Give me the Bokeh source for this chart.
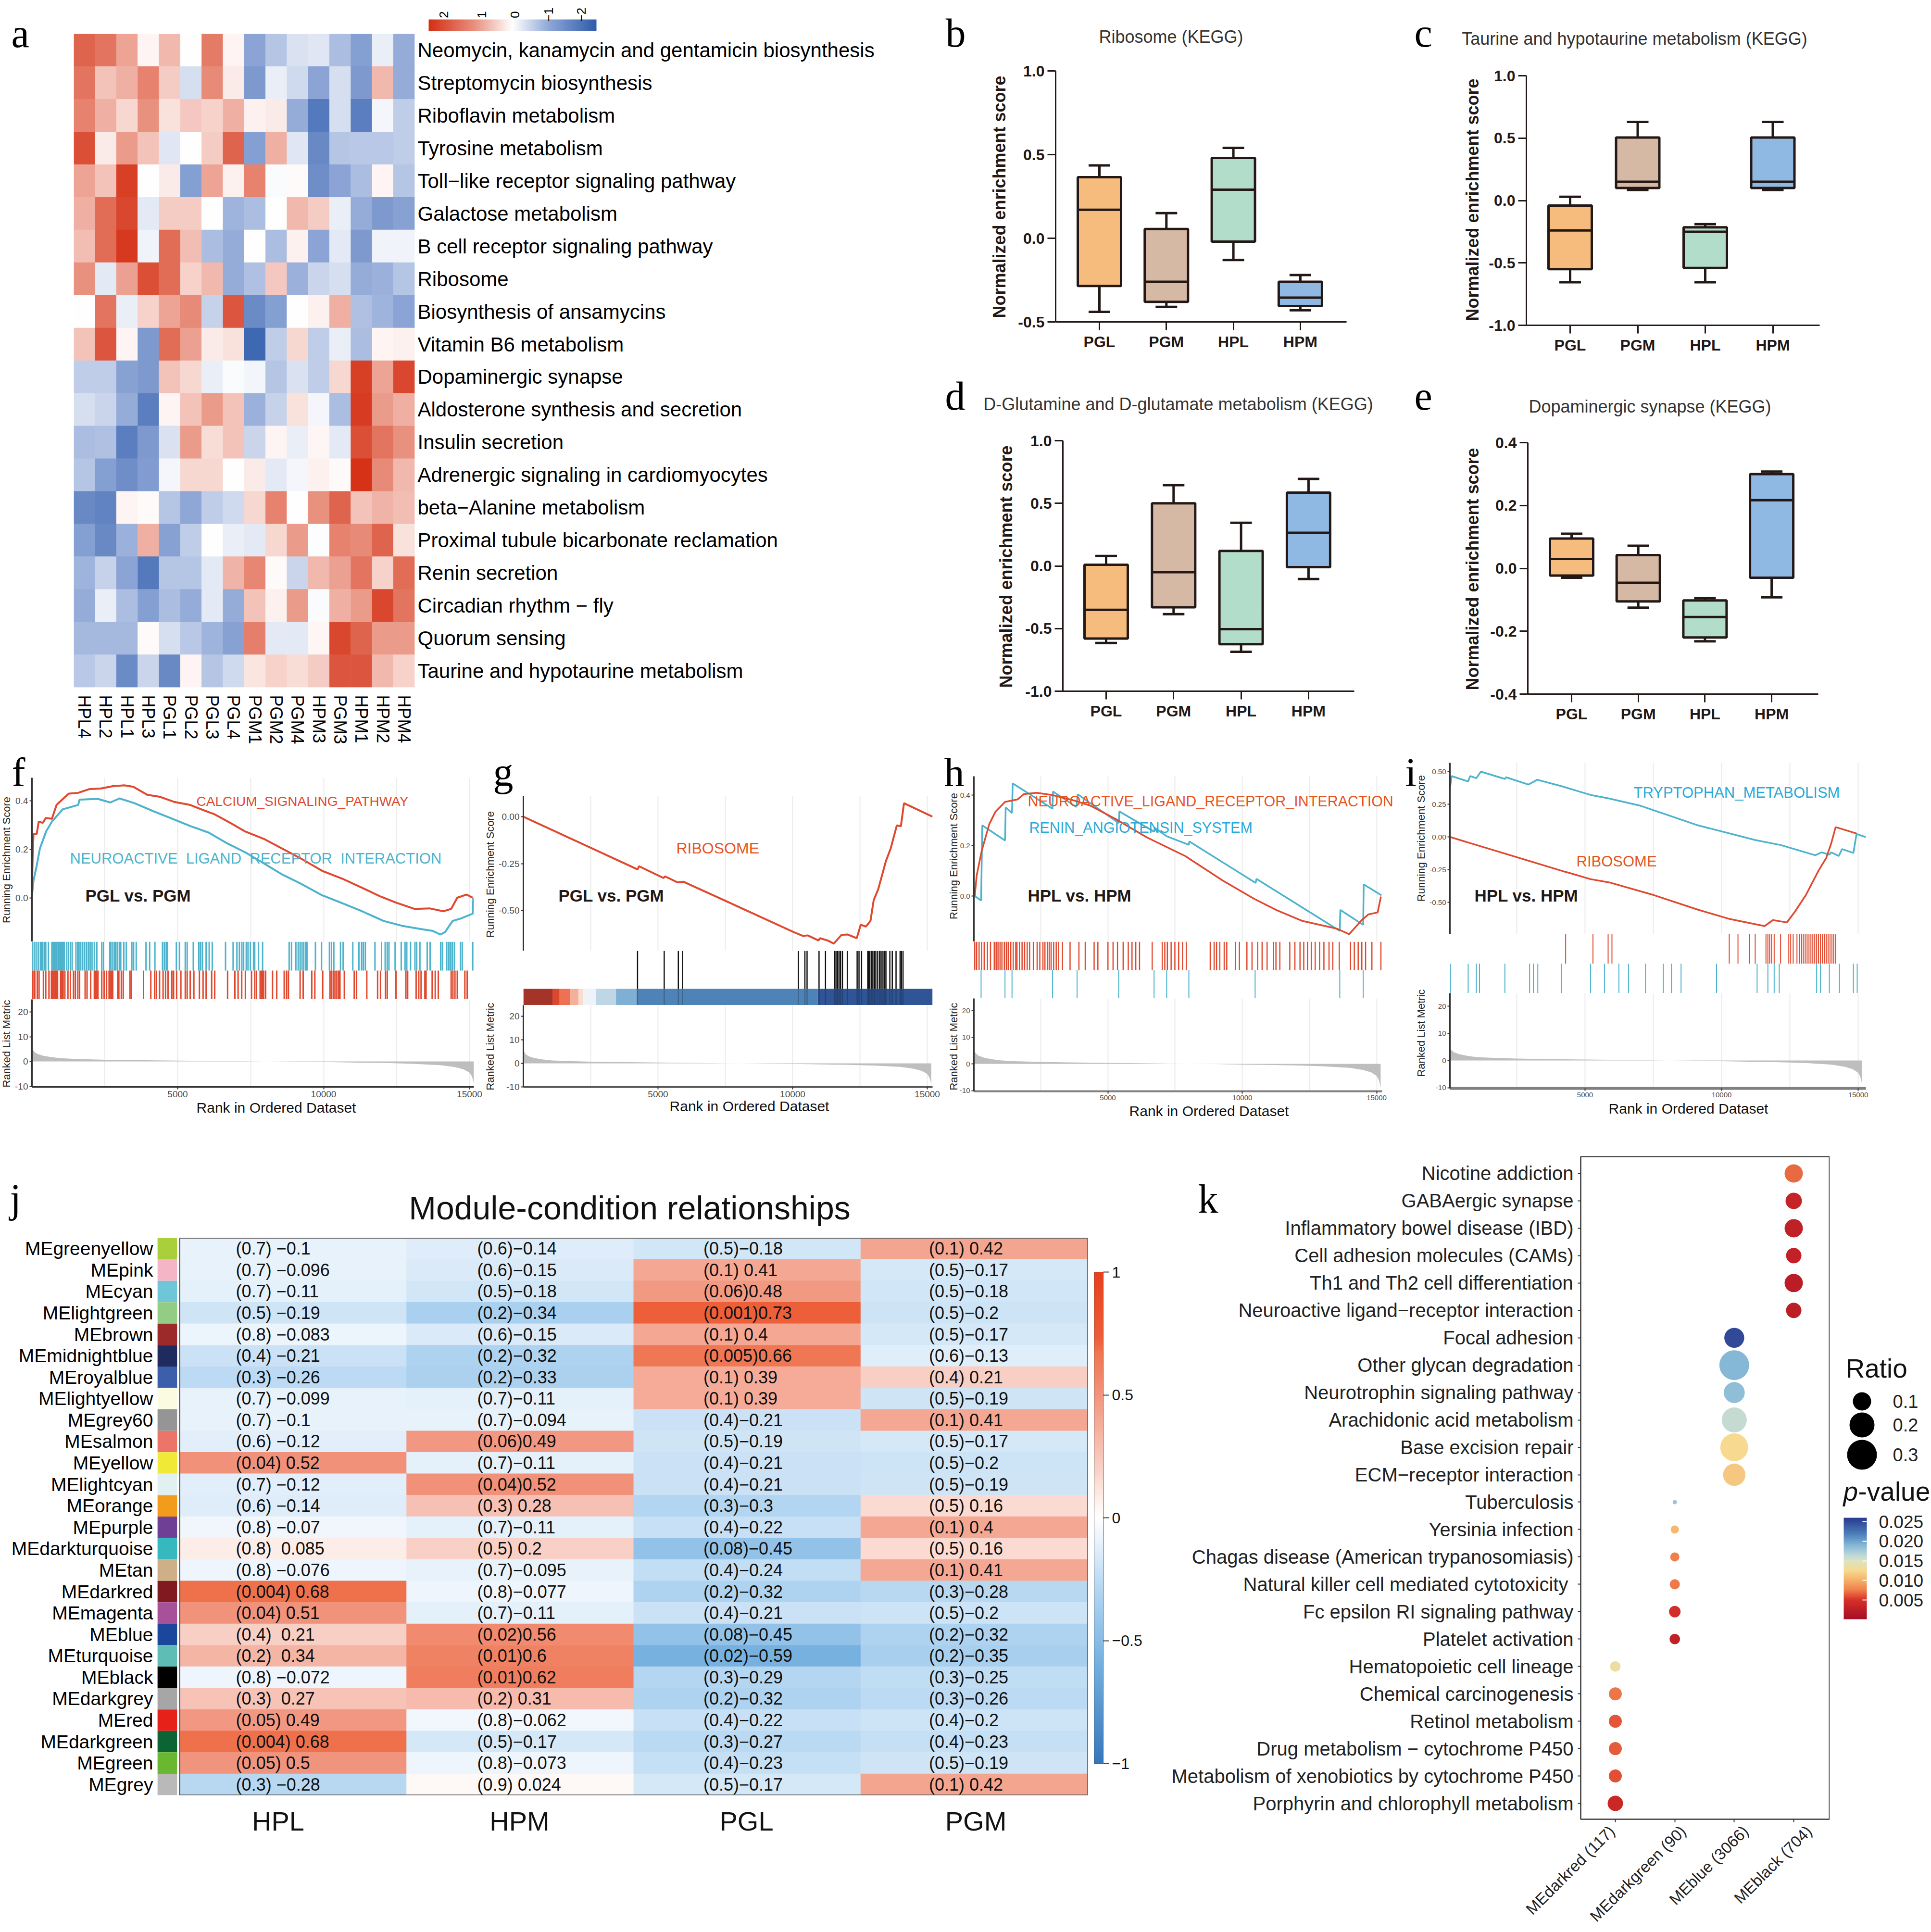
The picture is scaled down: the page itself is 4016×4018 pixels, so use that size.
import math
from bokeh.plotting import figure
from bokeh.layouts import row, column
from bokeh.models import (Range1d, FactorRange, FixedTicker, LinearColorMapper, ColorBar, Grid,
                          ColumnDataSource, PrintfTickFormatter)
from bokeh.core.properties import value
from bokeh.embed import file_html
from bokeh.resources import INLINE
import numpy as np

SANS = "Liberation Sans"
SERIF = "Liberation Serif"
DARK = "#231815"
PAGE_W, PAGE_H = 4016, 4018

# ---------- panel a data ----------
a_samples = ["HPL4","HPL2","HPL1","HPL3","PGL1","PGL2","PGL3","PGL4","PGM1","PGM2","PGM4","HPM3","PGM3","HPM1","HPM2","HPM4"]
a_pathways = ["Neomycin, kanamycin and gentamicin biosynthesis","Streptomycin biosynthesis","Riboflavin metabolism",
 "Tyrosine metabolism","Toll\u2212like receptor signaling pathway","Galactose metabolism","B cell receptor signaling pathway",
 "Ribosome","Biosynthesis of ansamycins","Vitamin B6 metabolism","Dopaminergic synapse","Aldosterone synthesis and secretion",
 "Insulin secretion","Adrenergic signaling in cardiomyocytes","beta\u2212Alanine metabolism","Proximal tubule bicarbonate reclamation",
 "Renin secretion","Circadian rhythm \u2212 fly","Quorum sensing","Taurine and hypotaurine metabolism"]
a_values = [
 [1.7,1.5,0.9,0.1,0.7,0,1.4,0.1,-1.1,-0.7,-0.35,-0.3,-0.8,-1.2,-0.2,-1.0],
 [1.5,0.6,0.8,1.3,0.5,-0.4,1.2,0.2,-1.3,-0.2,-0.45,-1.1,-0.4,-1.3,0.7,-1.0],
 [1.3,0.8,0.4,1.1,0.3,0.55,0.45,0.8,0.15,0.2,-1.0,-1.9,-0.4,-1.8,-0.1,-0.6],
 [2.0,0.2,1.0,0.6,-0.3,0,0.5,1.7,-1.2,0.8,-0.3,-1.6,-0.7,-0.65,-0.65,-0.6],
 [0.9,0.6,2.2,0,0.2,-1.2,0.9,0.15,1.3,-0.05,0.05,-1.5,-1.1,-0.8,0.1,-0.7],
 [0.8,1.6,2.1,-0.25,0.5,0.5,0,-0.9,-0.8,0,0.7,0.5,-0.2,-1.0,-1.3,-1.15],
 [0.65,1.6,2.3,-0.15,1.6,0.65,-0.8,-1.0,0,-0.8,0.15,-1.1,-0.25,-1.3,-0.15,-0.15],
 [1.1,-0.25,0.95,2.0,1.6,0.45,0.7,-1.0,-0.75,0.55,-0.95,-0.5,-0.4,-1.0,-0.95,-0.7],
 [0,1.5,-0.2,0.45,0.9,1.2,-0.55,1.9,-1.55,-1.2,0,0.15,0.8,-0.75,-0.9,-1.1],
 [0.6,1.9,0.1,-1.3,1.6,0.95,0.2,0.3,-2.2,-0.6,0.4,-0.6,-0.2,-0.8,0.1,0.15],
 [-0.6,-0.6,-1.15,-1.3,0.6,0.4,-0.2,-0.05,-0.12,-0.7,-0.35,-0.6,0.4,2.2,0.9,2.1],
 [-0.4,-0.5,-1.0,-1.8,0.1,0.6,1.0,0.6,-0.95,-0.55,0.3,-0.1,-0.8,2.25,1.0,0.8],
 [-0.8,-0.75,-1.8,-1.3,-0.35,1.0,0.35,0.6,-0.5,0.1,-0.2,0.08,-0.25,2.0,1.5,1.1],
 [-0.7,-1.2,-1.5,-1.25,-0.1,0.4,0.4,0,0.2,-0.25,-0.1,0.15,0.05,2.4,1.2,0.7],
 [-1.6,-1.7,0.1,0.05,-0.7,-1.05,-0.6,-0.45,0.4,1.3,0,1.1,1.7,0.6,0.75,0.65],
 [-1.2,-1.6,-0.95,0.8,-1.15,-0.6,0,-0.2,-0.25,0.4,1.0,-0.03,1.3,1.2,1.7,0.3],
 [-0.9,-0.55,-1.1,-1.9,-0.7,-0.7,-0.25,0.75,1.25,0.05,-0.5,0.7,0.95,1.5,0.45,1.6],
 [-1.0,-0.2,-0.8,-1.2,-0.8,-1.0,-0.25,-1.0,0.6,0.15,1.0,-0.05,0.8,1.0,2.1,1.5],
 [-0.85,-0.85,-0.85,0.05,-0.4,-0.65,-0.9,-1.15,1.35,-0.25,-0.25,0.08,2.1,1.7,1.0,1.0],
 [-0.65,-0.5,-1.55,-0.5,-1.6,0.1,-0.7,-0.45,0.25,0.45,0.35,0.5,1.9,1.9,0.7,0.45],
]
a_legend_ticks = ["2","1","0","\u22121","\u22122"]

# ---------- boxplot data (low, q1, median, q3, high per group) ----------
box_groups = ["PGL","PGM","HPL","HPM"]
box_colors = ["#F6BC7E","#D5B9A5","#B2DDCB","#8FB8E2"]
b_low = [-0.44,-0.41,-0.13,-0.43]; b_q1 = [-0.285,-0.38,-0.02,-0.405]; b_med = [0.17,-0.26,0.29,-0.355]; b_q3 = [0.365,0.055,0.48,-0.26]; b_high = [0.435,0.15,0.54,-0.22]
c_low = [-0.655,0.085,-0.655,0.085]; c_q1 = [-0.55,0.10,-0.54,0.10]; c_med = [-0.24,0.15,-0.25,0.15]; c_q3 = [-0.04,0.505,-0.215,0.505]; c_high = [0.03,0.63,-0.19,0.63]
d_low = [-0.615,-0.385,-0.685,-0.105]; d_q1 = [-0.58,-0.33,-0.625,-0.01]; d_med = [-0.35,-0.05,-0.505,0.265]; d_q3 = [0.01,0.50,0.12,0.585]; d_high = [0.08,0.645,0.345,0.695]
e_low = [-0.03,-0.125,-0.232,-0.092]; e_q1 = [-0.023,-0.105,-0.22,-0.03]; e_med = [0.03,-0.046,-0.155,0.217]; e_q3 = [0.095,0.042,-0.102,0.30]; e_high = [0.11,0.072,-0.095,0.308]

# ---------- GSEA data ----------
f_red_x = [0,30,60,170,240,380,480,690,850,1060,1270,1590,1960,2380,2800,3170,3480,3960,4380,4900,5430,5850,6270,6800,7320,7950,8580,9220,9950,10690,11320,11950,12480,13110,13630,14110,14370,14580,14900,15110]
f_red_y = [0,.162,.263,.263,.314,.309,.329,.326,.383,.407,.430,.433,.448,.451,.461,.464,.458,.425,.417,.395,.383,.363,.344,.309,.273,.243,.203,.162,.111,.076,.041,.005,-.020,-.046,-.044,-.056,-.046,0,.013,0]
f_blue_x = [0,60,170,280,490,690,1060,1590,1640,2270,2690,3010,3530,4170,4800,5430,6060,6690,7320,7950,8580,9220,9950,10690,11320,12060,12690,13320,13740,14000,14160,14420,14690,15110,15130]
f_blue_y = [0,.071,.132,.203,.273,.314,.365,.383,.405,.408,.393,.410,.390,.357,.327,.296,.269,.225,.187,.142,.096,.058,.010,-.025,-.056,-.096,-.116,-.129,-.137,-.152,-.142,-.096,-.086,-.066,0]
f_blue_rug = [20,85,150,220,295,335,380,440,480,570,690,735,775,820,860,905,945,990,1030,1075,1115,1200,1260,1325,1385,1515,1575,1620,1680,1745,1810,1875,1940,2000,2065,2145,2230,2400,2460,2675,2715,2780,2840,2885,2945,3010,3050,3155,3240,3430,3490,3580,3915,4040,4220,4480,4545,4610,4650,4955,5060,5260,5325,5535,5725,5785,5850,5975,6080,6185,6640,6900,7030,7115,7200,7260,7350,7410,7490,7600,7640,7770,7910,8820,8900,9050,9130,9195,9260,9320,9385,9430,9720,9930,10200,10270,10350,10580,10670,11000,11210,11300,11360,11430,11760,11985,12110,12180,12240,12450,12660,12790,12850,12980,13130,13190,13300,13550,13650,14010,14070,14220,14290,14350,14410,14480,14690,14750,15110]
f_red_rug = [40,105,190,250,400,480,590,675,715,760,800,840,885,990,1030,1075,1135,1240,1325,1430,1495,1580,1640,1830,1895,2020,2145,2190,2230,2270,2400,2480,2565,2650,2690,2735,2775,2945,2985,3070,3135,3365,3410,3830,4080,4210,4270,4380,4500,4585,4670,4800,4860,4965,5110,5260,5325,5430,5555,5745,5870,5975,6165,6270,6710,6960,7070,7195,7320,7530,7640,7700,7825,7870,7910,7950,8015,8250,8395,8650,8730,8795,9195,9300,9595,9700,9970,10220,10270,10330,10390,10455,10520,10560,10710,11050,11130,11480,11850,11950,12120,12180,12480,12820,12880,13170,13260,13340,13470,13510,13720,13825,13930,14370,14430,14500,14580,14840,14920]

g_red_x = [0,4240,4295,5205,5260,5720,5950,7540,10050,10390,10560,10960,11015,11300,11530,11815,12040,12380,12530,12720,12890,13010,13180,13465,13640,13870,14020,14135,15195]
g_red_y = [0,-.281,-.264,-.327,-.318,-.350,-.347,-.451,-.616,-.636,-.633,-.660,-.648,-.660,-.677,-.630,-.628,-.648,-.576,-.586,-.556,-.445,-.386,-.236,-.170,-.046,-.051,.072,0]
g_rug = [4240,5230,5755,5915,10215,10455,10535,10980,11220,11560,11610,11670,11725,11780,11850,12030,12395,12465,12560,12790,12820,12865,12920,12980,13040,13090,13160,13230,13285,13355,13420,13465,13610,13700,13840,13990,14040,14100]
g_band_edges = [0,1080,1345,1730,2050,2230,2700,3440,4200,10935,15195]
g_band_colors = ["#A53428","#D9482F","#EF7154","#F5B09A","#FBDDD0","#EEF3F9","#BFD6E6","#7FB0D4","#4E83B7","#2F5597"]

h_red_x = [50,120,305,590,820,1175,1645,1880,2350,2940,3760,4350,5290,6460,7870,9280,10460,11280,12220,13510,13980,14450,14690,15040,15160]
h_red_y = [0,.081,.178,.285,.334,.373,.383,.404,.409,.400,.378,.358,.305,.232,.159,.061,-.012,-.056,-.098,-.129,-.151,-.095,-.073,-.065,-.002]
h_blue_x = [50,285,330,1175,1200,1435,1460,2940,2960,3830,3880,5410,5430,6720,6745,7190,8010,8035,10500,10530,13630,13650,14500,14520,15180]
h_blue_y = [0,-.018,.280,.220,.351,.329,.446,.346,.414,.353,.403,.289,.335,.255,.270,.237,.203,.216,.052,.068,-.138,-.055,-.114,.046,.003]
h_red_rug = [50,120,210,305,400,520,635,775,845,915,990,1060,1150,1225,1295,1390,1480,1575,1620,1715,1810,1905,2000,2090,2230,2370,2470,2585,2660,2750,2820,2890,2985,3080,3170,3310,3595,3925,4160,4490,4630,5005,5195,5360,5570,5760,5900,6040,6180,6650,7025,7120,7215,7355,7495,7635,7780,7920,8810,8955,9045,9165,9330,9425,9750,9895,10175,10365,10575,10740,10925,11160,11255,11400,11770,11960,12150,12290,12430,12570,12715,12880,13040,13230,13370,13610,14030,14170,14315,14450,14590,14825,15160]
h_blue_rug = [285,1175,1435,2940,3855,5405,6720,7190,8015,10480,13630,14500]

i_blue_x = [45,45,115,720,790,1020,1185,2065,2110,2925,3250,4150,5200,5890,7050,9140,11230,12160,13430,13665,13945,14010,14290,14410,14825,14940,15290]
i_blue_y = [0,.359,.465,.424,.465,.449,.499,.443,.456,.400,.437,.387,.321,.293,.237,.088,-.024,-.062,-.140,-.118,-.136,-.118,-.146,-.093,-.123,.022,-.002]
i_red_x = [45,4270,4385,5200,5890,7520,9140,10300,11575,11880,12390,12670,13085,13550,13830,14010,14175,14940]
i_red_y = [0,-.267,-.273,-.323,-.348,-.445,-.557,-.628,-.682,-.636,-.654,-.576,-.445,-.258,-.161,-.052,.075,.026]
i_red_rug = [4290,5290,5845,5985,10280,10600,11020,11230,11625,11695,11760,11830,11925,12160,12460,12530,12620,12760,12850,12925,12990,13060,13130,13200,13270,13340,13410,13480,13550,13620,13690,13760,13830,13900,13970,14040,14105,14175]
i_blue_rug = [70,720,1020,1135,2065,2970,3110,3270,4130,5200,5710,6240,6590,7215,7865,8165,8515,9815,11300,11695,11925,12110,13480,13620,13945,14315,14825,14965]

rank_x = [0,50,100,200,400,700,1000,1500,2500,3500,5000,7000,8000,9000,10000,12000,13000,14000,14500,14800,15000,15080,15120,15150]
rank_y = [6,4.5,3.8,3.0,2.3,1.7,1.3,1.0,.7,.55,.35,.12,0,-.1,-.25,-.6,-.9,-1.5,-2.3,-3.2,-4.5,-6,-7.5,-9]

# ---------- panel j data ----------
j_modules = ["MEgreenyellow","MEpink","MEcyan","MElightgreen","MEbrown","MEmidnightblue","MEroyalblue","MElightyellow","MEgrey60","MEsalmon","MEyellow","MElightcyan","MEorange","MEpurple","MEdarkturquoise","MEtan","MEdarkred","MEmagenta","MEblue","MEturquoise","MEblack","MEdarkgrey","MEred","MEdarkgreen","MEgreen","MEgrey"]
j_colors = ["#A9CF3A","#F4B6C6","#6EC6D8","#93CC85","#9C2A2A","#1F2A5E","#3C5FAB","#FBFBE2","#959595","#EC7468","#F0E936","#E1F1F2","#F39C1C","#6F3F95","#35B8BE","#CEB088","#811A20","#A8519B","#1A479C","#5EBDB4","#000000","#A6A6A6","#E52119","#0B6434","#6AB82F","#B9B9B9"]
j_conditions = ["HPL","HPM","PGL","PGM"]
hpl_p = [.7,.7,.7,.5,.8,.4,.3,.7,.7,.6,.04,.7,.6,.8,.8,.8,.004,.04,.4,.2,.8,.3,.05,.004,.05,.3]
hpl_r = [-.1,-.096,-.11,-.19,-.083,-.21,-.26,-.099,-.1,-.12,.52,-.12,-.14,-.07,.085,-.076,.68,.51,.21,.34,-.072,.27,.49,.68,.5,-.28]
hpm_p = [.6,.6,.5,.2,.6,.2,.2,.7,.7,.06,.7,.04,.3,.7,.5,.7,.8,.7,.02,.01,.01,.2,.8,.5,.8,.9]
hpm_r = [-.14,-.15,-.18,-.34,-.15,-.32,-.33,-.11,-.094,.49,-.11,.52,.28,-.11,.2,-.095,-.077,-.11,.56,.6,.62,.31,-.062,-.17,-.073,.024]
pgl_p = [.5,.1,.06,.001,.1,.005,.1,.1,.4,.5,.4,.4,.3,.4,.08,.4,.2,.4,.08,.02,.3,.2,.4,.3,.4,.5]
pgl_r = [-.18,.41,.48,.73,.4,.66,.39,.39,-.21,-.19,-.21,-.21,-.3,-.22,-.45,-.24,-.32,-.21,-.45,-.59,-.29,-.32,-.22,-.27,-.23,-.17]
pgm_p = [.1,.5,.5,.5,.5,.6,.4,.5,.1,.5,.5,.5,.5,.1,.5,.1,.3,.5,.2,.2,.3,.3,.4,.4,.5,.1]
pgm_r = [.42,-.17,-.18,-.2,-.17,-.13,.21,-.19,.41,-.17,-.2,-.19,.16,.4,.16,.41,-.28,-.2,-.32,-.35,-.25,-.26,-.2,-.23,-.19,.42]

# ---------- panel k data ----------
k_terms = ["Nicotine addiction","GABAergic synapse","Inflammatory bowel disease (IBD)","Cell adhesion molecules (CAMs)","Th1 and Th2 cell differentiation","Neuroactive ligand\u2212receptor interaction","Focal adhesion","Other glycan degradation","Neurotrophin signaling pathway","Arachidonic acid metabolism","Base excision repair","ECM\u2212receptor interaction","Tuberculosis","Yersinia infection","Chagas disease (American trypanosomiasis)","Natural killer cell mediated  cytotoxicity","Fc epsilon RI signaling pathway","Platelet activation","Hematopoietic cell lineage","Chemical carcinogenesis","Retinol metabolism","Drug metabolism \u2212 cytochrome P450","Metabolism of xenobiotics by cytochrome P450","Porphyrin and chlorophyll metabolism"]
k_modules = ["MEdarkred (117)","MEdarkgreen (90)","MEblue (3066)","MEblack (704)"]
k_module_idx = [4]*6 + [3]*6 + [2]*6 + [1]*6
k_ratio = [.1,.08,.1,.07,.1,.07,.125,.3,.14,.2,.26,.16,.01,.02,.025,.03,.04,.032,.032,.05,.05,.05,.05,.07]
k_pvalue = [.0068,.0033,.0028,.003,.0022,.0024,.025,.019,.0185,.016,.0125,.0115,.018,.0105,.0075,.0073,.0046,.0028,.0135,.0072,.0062,.0064,.006,.0038]
k_ratio_keys = [.1,.2,.3]
k_p_ticks = [.005,.01,.015,.02,.025]

overlay_items = []


def ramp(anchors, n=256):
    pos = np.array([a[0] for a in anchors], float)
    rgb = np.array([[int(a[1][i:i+2], 16) for i in (1, 3, 5)] for a in anchors], float)
    t = np.linspace(pos[0], pos[-1], n)
    out = []
    for v in t:
        c = [int(round(np.interp(v, pos, rgb[:, k]))) for k in range(3)]
        out.append("#%02x%02x%02x" % tuple(c))
    return out


def lin(v1, p1, v2, p2, px):
    return v1 + (px - p1) * (v2 - v1) / (p2 - p1)


def fig(x0, x1, y0, y1, fl, fr, ft, fb, x_range, y_range, **kw):
    p = figure(width=x1 - x0, height=y1 - y0, x_range=x_range, y_range=y_range,
               min_border_left=fl - x0, min_border_right=x1 - fr,
               min_border_top=ft - y0, min_border_bottom=y1 - fb, frame_align=False,
               output_backend="svg", toolbar_location=None, **kw)
    p.outline_line_color = None
    p.background_fill_color = None
    p.border_fill_color = None
    p.grid.visible = False
    return p


def txt(s, px, py, size, color="#000000", align="left", base="middle", font=SANS, style="normal", angle=0.0):
    overlay_items.append((s, px, py, size, color, align, base, font, style, angle))


def letter(s, px, py):
    txt(s, px, py, 84, base="alphabetic", font=SERIF)


# ---------- panel a ----------
pa = fig(0, 1950, 0, 1550, 153, 862, 70, 1436, FactorRange(*a_samples), FactorRange(*a_pathways[::-1]), y_axis_location="right")
pal_a = ramp([(-2.44, "#2F5CAB"), (-1.1, "#8BA4D5"), (0, "#FFFFFF"), (1.1, "#E9917F"), (2.44, "#D42F14")])
map_a = LinearColorMapper(palette=pal_a, low=-2.44, high=2.44)
xs, ys, vs = [], [], []
for r, pw in enumerate(a_pathways):
    for c, sm in enumerate(a_samples):
        xs.append(sm); ys.append(pw); vs.append(a_values[r][c])
pa.rect("x", "y", width=1.01, height=1.01, source=ColumnDataSource(dict(x=xs, y=ys, v=vs)),
        fill_color={"field": "v", "transform": map_a}, line_color=None)
for ax in (pa.xaxis[0], pa.yaxis[0]):
    ax.axis_line_color = None
    ax.major_tick_line_color = None
    ax.minor_tick_line_color = None
pa.yaxis.major_label_text_font = SANS
pa.yaxis.major_label_text_font_size = "42px"
pa.yaxis.major_label_text_color = "#000000"
pa.yaxis.major_label_standoff = 0
pa.xaxis.major_label_text_font = SANS
pa.xaxis.major_label_text_font_size = "36px"
pa.xaxis.major_label_text_color = "#000000"
pa.xaxis.major_label_orientation = -math.pi / 2
pa.xaxis.major_label_standoff = 10
map_a_leg = LinearColorMapper(palette=pal_a[::-1], low=0, high=1)
pa.add_layout(ColorBar(color_mapper=map_a_leg, orientation="horizontal", width=349, height=24, padding=0,
                       location=(891 - 153, 1436 - 71), ticker=FixedTicker(ticks=[]), bar_line_color=None,
                       border_line_color=None, background_fill_color=None, major_tick_line_color=None), "center")
for s, px in zip(a_legend_ticks, [922, 1001, 1070, 1140, 1208]):
    txt(s, px, 30, 26, align="center", angle=math.pi / 2)
letter("a", 23, 69)


# ---------- boxplots ----------
def box(x0, x1, y0, y1, fl, fr, ft, fb, x1px, dx, vtop, vbot, ticks, low, q1, med, q3, high,
        title, tx, ty, let, lx, ly, ylabx, ylaby):
    xr = Range1d(1 - (x1px - fl) / dx, 1 + (fr - x1px) / dx)
    p = fig(x0, x1, y0, y1, fl, fr, ft, fb, xr, Range1d(vbot, vtop))
    X = [1, 2, 3, 4]
    w = 90 / dx
    cap = 45 / dx
    lw = 5
    p.segment(X, low, X, q1, line_color=DARK, line_width=lw)
    p.segment(X, q3, X, high, line_color=DARK, line_width=lw)
    p.segment([v - cap / 2 for v in X], low, [v + cap / 2 for v in X], low, line_color=DARK, line_width=lw)
    p.segment([v - cap / 2 for v in X], high, [v + cap / 2 for v in X], high, line_color=DARK, line_width=lw)
    p.vbar(x=X, width=w, bottom=q1, top=q3, fill_color=box_colors, line_color=DARK, line_width=lw)
    p.segment([v - w / 2 for v in X], med, [v + w / 2 for v in X], med, line_color=DARK, line_width=lw)
    p.xaxis.ticker = FixedTicker(ticks=X)
    p.xaxis.major_label_overrides = {v: g for v, g in zip(X, box_groups)}
    p.yaxis.ticker = FixedTicker(ticks=ticks)
    p.yaxis.major_label_overrides = {t: f"{t:.1f}" for t in ticks}
    for ax in (p.xaxis[0], p.yaxis[0]):
        ax.axis_line_color = DARK
        ax.axis_line_width = 3
        ax.major_tick_line_color = DARK
        ax.major_tick_line_width = 3
        ax.major_tick_in = 0
        ax.major_tick_out = 17
        ax.minor_tick_line_color = None
        ax.major_label_text_font = SANS
        ax.major_label_text_font_size = "32px"
        ax.major_label_text_font_style = "bold"
        ax.major_label_text_color = DARK
        ax.major_label_standoff = 6
    txt(title, tx, ty, 36, color="#333333", align="center")
    txt("Normalized enrichment score", ylabx, ylaby, 36, color=DARK, align="center", style="bold", angle=math.pi / 2)
    letter(let, lx, ly)
    return p


pb = box(1950, 2935, 0, 750, 2195, 2800, 147, 669, 2286, 139.3, 1.0, -0.5, [-0.5, 0.0, 0.5, 1.0], b_low, b_q1, b_med, b_q3, b_high,
         "Ribosome (KEGG)", 2435, 76, "b", 1966, 68, 2078, 409)
pc = box(2935, 4016, 0, 750, 3174, 3784, 157, 676, 3265, 140.5, 1.0, -1.0, [-1.0, -0.5, 0.0, 0.5, 1.0], c_low, c_q1, c_med, c_q3, c_high,
         "Taurine and hypotaurine metabolism (KEGG)", 3399, 80, "c", 2941, 68, 3062, 415)
pd_ = box(1950, 2935, 750, 1550, 2210, 2816, 916, 1437, 2300, 140.3, 1.0, -1.0, [-1.0, -0.5, 0.0, 0.5, 1.0], d_low, d_q1, d_med, d_q3, d_high,
          "D-Glutamine and D-glutamate metabolism (KEGG)", 2450, 840, "d", 1965, 823, 2092, 1178)
pe = box(2935, 4016, 750, 1550, 3177, 3781, 920, 1443, 3268, 138.7, 0.4, -0.4, [-0.4, -0.2, 0.0, 0.2, 0.4], e_low, e_q1, e_med, e_q3, e_high,
         "Dopaminergic synapse (KEGG)", 3431, 845, "e", 2941, 823, 3062, 1183)

# ---------- GSEA ----------
RED = "#E0492F"
BLUE = "#4DB3CC"
ORANGE = "#E8541E"
SKY = "#29A9D9"


def gsea(x0, x1, fl, fr, p0, k5000, es_top, rug_top, rug_bot, es_cal, es_ticks, es_fmt, rank_cal, rank_bot,
         ylx, yly, rly, xlc, xly, tick_size=19, base_color="#333333", base_width=3):
    xrng = ((fl - p0) / k5000 * 5000, (fr - p0) / k5000 * 5000)
    v1, p1, v2, p2 = es_cal
    es = fig(x0, x1, 1550, rug_top, fl, fr, es_top, rug_top, Range1d(*xrng),
             Range1d(lin(v1, p1, v2, p2, rug_top), lin(v1, p1, v2, p2, es_top)), x_axis_location=None)
    rug = fig(x0, x1, rug_top, rug_bot, fl, fr, rug_top, rug_bot, Range1d(*xrng), Range1d(0, 1),
              x_axis_location=None, y_axis_location=None)
    r1, q1, r2, q2 = rank_cal
    rk = fig(x0, x1, rug_bot, 2380, fl, fr, rug_bot, rank_bot, Range1d(*xrng),
             Range1d(lin(r1, q1, r2, q2, rank_bot), lin(r1, q1, r2, q2, rug_bot)))
    for p in (es, rk):
        p.add_layout(Grid(dimension=0, ticker=FixedTicker(ticks=[2500, 5000, 7500, 10000, 12500, 15000]),
                          grid_line_color="#EBEBEB", grid_line_width=2), "center")
    es.yaxis.ticker = FixedTicker(ticks=es_ticks)
    es.yaxis.major_label_overrides = {t: es_fmt % t for t in es_ticks}
    rk.yaxis.ticker = FixedTicker(ticks=[-10, 0, 10, 20])
    rk.yaxis.major_label_overrides = {-10: "-10", 0: "0", 10: "10", 20: "20"}
    rk.xaxis.ticker = FixedTicker(ticks=[5000, 10000, 15000])
    rk.xaxis.major_label_overrides = {5000: "5000", 10000: "10000", 15000: "15000"}
    axes = [es.yaxis[0], rk.yaxis[0], rk.xaxis[0]]
    for ax in axes:
        ax.axis_line_color = "#333333"
        ax.axis_line_width = 3
        ax.major_tick_line_color = "#333333"
        ax.major_tick_line_width = 2
        ax.major_tick_in = 0
        ax.major_tick_out = 5
        ax.minor_tick_line_color = None
        ax.major_label_text_font = SANS
        ax.major_label_text_font_size = f"{tick_size}px"
        ax.major_label_text_color = "#4D4D4D"
        ax.major_label_standoff = 3
    rk.xaxis[0].axis_line_color = base_color
    rk.xaxis[0].axis_line_width = base_width
    rk.varea(x=rank_x, y1=[0] * len(rank_x), y2=rank_y, fill_color="#BEBEBE")
    txt("Running Enrichment Score", ylx, yly, 22, color="#222222", align="center", angle=math.pi / 2)
    txt("Ranked List Metric", ylx, rly, 22, color="#222222", align="center", angle=math.pi / 2)
    txt("Rank in Ordered Dataset", xlc, xly, 30, color="#111111", align="center")
    return es, rug, rk


# f
fe, fr_, fk = gsea(0, 1005, 66, 985, 65.5, 303.5, 1617, 1958, 2078, (0.0, 1866.5, 0.4, 1665), [0.0, 0.2, 0.4], "%.1f",
                   (0, 2207, 20, 2104), 2260, 13, 1788, 2170, 574, 2303)
fe.line(f_blue_x, f_blue_y, line_color=BLUE, line_width=4)
fe.line(f_red_x, f_red_y, line_color=RED, line_width=4)
fr_.y_range.start, fr_.y_range.end = 0, 2
fr_.segment(f_blue_rug, [1] * len(f_blue_rug), f_blue_rug, [2] * len(f_blue_rug), line_color=BLUE, line_width=3)
fr_.segment(f_red_rug, [0] * len(f_red_rug), f_red_rug, [1] * len(f_red_rug), line_color=RED, line_width=3)
txt("CALCIUM_SIGNALING_PATHWAY", 408, 1666, 28, color=RED)
txt("NEUROACTIVE\u00a0\u00a0LIGAND\u00a0\u00a0RECEPTOR\u00a0\u00a0INTERACTION", 145, 1785, 31, color=BLUE)
txt("PGL vs. PGM", 177, 1862, 35, color=DARK, style="bold")
letter("f", 24, 1605)
pf = column(fe, fr_, fk)

# g
ge, gr, gk = gsea(1005, 1955, 1088, 1939, 1088, 280, 1655, 1977, 2090, (0.0, 1698, -0.5, 1893), [-0.5, -0.25, 0.0], "%.2f",
                  (0, 2211, 20, 2113), 2260, 1019, 1818, 2176, 1558, 2300, base_color="#555555", base_width=4)
ge.line(g_red_x, g_red_y, line_color=RED, line_width=4)
gr.y_range.start, gr.y_range.end = -0.43, 1
gr.quad(left=g_band_edges[:-1], right=g_band_edges[1:], bottom=-0.43, top=0, fill_color=g_band_colors, line_color=None)
gr.segment(g_rug, [0] * len(g_rug), g_rug, [1] * len(g_rug), line_color="#111111", line_width=2.5)
gr.segment(g_rug, [-0.43] * len(g_rug), g_rug, [0] * len(g_rug), line_color="#111111", line_width=2.5, line_alpha=0.25)
txt("RIBOSOME", 1406, 1763, 32, color=ORANGE)
txt("PGL vs. PGM", 1161, 1862, 35, color=DARK, style="bold")
letter("g", 1025, 1605)
pg = column(ge, gr, gk)

# h
he, hr, hk = gsea(1955, 2915, 2025, 2874, 2024, 279.5, 1614, 1958, 2076, (0.0, 1863, 0.4, 1653), [0.0, 0.2, 0.4], "%.1f",
                  (0, 2212, 20, 2101), 2269, 1983, 1780, 2176, 2514, 2310, tick_size=15, base_color="#808080", base_width=4)
he.line(h_blue_x, h_blue_y, line_color=BLUE, line_width=3.5)
he.line(h_red_x, h_red_y, line_color=RED, line_width=3.5)
hr.y_range.start, hr.y_range.end = 0, 2
hr.segment(h_red_rug, [1] * len(h_red_rug), h_red_rug, [2] * len(h_red_rug), line_color=RED, line_width=2.5)
hr.segment(h_blue_rug, [0] * len(h_blue_rug), h_blue_rug, [1] * len(h_blue_rug), line_color=BLUE, line_width=2)
txt("NEUROACTIVE_LIGAND_RECEPTOR_INTERACTION", 2137, 1665, 30.5, color=ORANGE)
txt("RENIN_ANGIOTENSIN_SYSTEM", 2140, 1720, 30.5, color=SKY)
txt("HPL vs. HPM", 2137, 1862, 35, color=DARK, style="bold")
letter("h", 1963, 1606)
ph = column(he, hr, hk)

# i
ie, ir, ik = gsea(2915, 4016, 3015, 3880, 3012, 284, 1586, 1942, 2065, (0.0, 1740, 0.5, 1604), [-0.5, -0.25, 0.0, 0.25, 0.5], "%.2f",
                  (0, 2205, 20, 2092), 2263, 2955, 1743, 2148, 3511, 2305, tick_size=15, base_color="#808080", base_width=6)
ie.line(i_blue_x, i_blue_y, line_color=BLUE, line_width=3.5)
ie.line(i_red_x, i_red_y, line_color=RED, line_width=3.5)
ir.y_range.start, ir.y_range.end = 0, 2
ir.segment(i_red_rug, [1] * len(i_red_rug), i_red_rug, [2] * len(i_red_rug), line_color=RED, line_width=2)
ir.segment(i_blue_rug, [0] * len(i_blue_rug), i_blue_rug, [1] * len(i_blue_rug), line_color=BLUE, line_width=2)
txt("TRYPTOPHAN_METABOLISM", 3397, 1648, 31, color=SKY)
txt("RIBOSOME", 3278, 1791, 31, color=ORANGE)
txt("HPL vs. HPM", 3066, 1862, 35, color=DARK, style="bold")
letter("i", 2922, 1606)
pi_ = column(ie, ir, ik)

# ---------- panel j ----------
pj = fig(0, 2400, 2380, 4018, 327, 2262, 2574, 3733, Range1d(-46 / 472.25, 4), FactorRange(*j_modules[::-1]))
pal_j = ramp([(-1, "#3577BB"), (-.6, "#74B0DF"), (-.3, "#B2D5F1"), (-.1, "#E8F2FB"), (0, "#FFFFFF"), (.1, "#FDE9E3"),
              (.2, "#F8D0C6"), (.3, "#F6BDAF"), (.42, "#F4A590"), (.52, "#F1917A"), (.68, "#F0744F"), (.73, "#EC5F39"), (1, "#E8401C")])
map_j = LinearColorMapper(palette=pal_j, low=-1, high=1)
rows_x, rows_y, rows_v, labs, lab_x = [], [], [], [], []
text_off = [0.248, 0.311, 0.307, 0.30]
for c, (ps, rs) in enumerate(zip((hpl_p, hpm_p, pgl_p, pgm_p), (hpl_r, hpm_r, pgl_r, pgm_r))):
    for m, pv, rv in zip(j_modules, ps, rs):
        rows_x.append(c + .5); rows_y.append(m); rows_v.append(rv)
        pt = f"({pv:g})"
        rt = f"{rv:g}".replace("-", "\u2212")
        if c == 0:
            sep = " " if (rv < 0 or len(pt) > 5) else " \u00a0"
        else:
            sep = "" if (rv < 0 or len(pt) > 5) else " "
        labs.append(pt + sep + rt)
        lab_x.append(c + text_off[c])
pj.rect("x", "y", width=1.002, height=1.01, source=ColumnDataSource(dict(x=rows_x, y=rows_y, v=rows_v)),
        fill_color={"field": "v", "transform": map_j}, line_color=None)
pj.rect(x=[-0.0544] * 26, y=j_modules, width=0.0868, height=1.0, fill_color=j_colors, line_color=None)
pj.line(x=[0, 4, 4, 0, 0], y=[(j_modules[-1], -0.5), (j_modules[-1], -0.5), (j_modules[0], 0.5), (j_modules[0], 0.5), (j_modules[-1], -0.5)],
        line_color="#666666", line_width=3)
pj.text(x=lab_x, y=rows_y, text=labs, text_font=value(SANS), text_font_size="36px", text_color="#111111",
        text_baseline="middle", text_align="left")
pj.xaxis.visible = False
pj.yaxis.axis_line_color = None
pj.yaxis.major_tick_line_color = None
pj.yaxis.major_label_text_font = SANS
pj.yaxis.major_label_text_font_size = "39px"
pj.yaxis.major_label_text_color = "#000000"
pj.yaxis.major_label_standoff = 3
pj.add_layout(ColorBar(color_mapper=map_j, width=19, height=1022, padding=0, location=(2275 - 327, 3733 - 3667),
                       ticker=FixedTicker(ticks=[-1, -.5, 0, .5, 1]),
                       major_label_overrides={-1: "\u22121", -.5: "\u22120.5", 0: "0", .5: "0.5", 1: "1"},
                       major_label_text_font=SANS, major_label_text_font_size="32px", major_label_text_color="#111111",
                       major_tick_in=0, major_tick_out=12, major_tick_line_color="#444444", major_tick_line_width=2,
                       label_standoff=6, bar_line_color="#555555", border_line_color=None, background_fill_color=None), "center")
for s, px in zip(j_conditions, [578, 1080, 1552, 2029]):
    txt(s, px, 3787, 56, color="#111111", align="center")
txt("Module-condition relationships", 1309, 2511, 68, color="#111111", align="center")
letter("j", 20, 2492)

# ---------- panel k ----------
pk = fig(2400, 3805, 2380, 4018, 3287, 3805, 2405, 3783,
         Range1d(1 - (3359 - 3287) / 123.7, 4 + (3805 - 3730) / 123.7),
         Range1d(1 - (3783 - 3750) / 56.96, 24 + (2440 - 2405) / 56.96))
pal_k_anchors = [(0.0001, "#A50F26"), (.005, "#D73027"), (.0075, "#F07F4C"), (.0105, "#F6B86F"), (.0125, "#F7D98F"),
                 (.015, "#DCE3C0"), (.0165, "#BBD8D8"), (.019, "#85B7D6"), (.022, "#4A7DB8"), (.026, "#2B3A8F")]
pal_k = ramp(pal_k_anchors)
map_k = LinearColorMapper(palette=pal_k, low=0.0001, high=0.026)


def ratio_size(r):
    return float(np.interp(r, [.01, .02, .03, .05, .07, .1, .2, .3], [9, 17, 21, 27, 32, 38, 52, 62]))


k_y = list(range(24, 0, -1))
pk.scatter("x", "y", size="s", source=ColumnDataSource(dict(x=k_module_idx, y=k_y, s=[ratio_size(r) for r in k_ratio], p=k_pvalue)),
           fill_color={"field": "p", "transform": map_k}, line_color=None)
pk.xaxis.ticker = FixedTicker(ticks=[1, 2, 3, 4])
pk.xaxis.major_label_overrides = {i + 1: "" for i in range(4)}
pk.yaxis.ticker = FixedTicker(ticks=k_y)
pk.yaxis.major_label_overrides = {y: t for y, t in zip(k_y, k_terms)}
for ax in (pk.xaxis[0], pk.yaxis[0]):
    ax.axis_line_color = "#333333"
    ax.axis_line_width = 2
    ax.major_tick_line_color = "#333333"
    ax.major_tick_line_width = 2
    ax.major_tick_in = 0
    ax.major_tick_out = 6
    ax.minor_tick_line_color = None
    ax.major_label_text_font = SANS
    ax.major_label_text_font_size = "40px"
    ax.major_label_text_color = "#222222"
    ax.major_label_standoff = 9
pk.outline_line_color = "#333333"
pk.outline_line_width = 2
for m, px in zip(k_modules, [3352, 3500, 3630, 3762]):
    txt(m, px, 3802, 33, color="#222222", align="right", angle=math.pi / 4)
letter("k", 2491, 2493)

# legend of k
pl = fig(3805, 4016, 2380, 4018, 3805, 4016, 2380, 4018, Range1d(3805, 4016), Range1d(4018, 2380),
         x_axis_location=None, y_axis_location=None)
pl.scatter([3872] * 3, [2914, 2963, 3025], size=[ratio_size(r) for r in k_ratio_keys], fill_color="#000000", line_color=None)
txt("Ratio", 3838, 2845, 55, color="#111111")
for r, yy in zip(k_ratio_keys, [2914, 2963, 3025]):
    txt(f"{r:.1f}", 3936, yy, 38, color="#222222")
txt("p", 3833, 3101, 55, color="#111111", style="italic")
txt("-value", 3864, 3101, 55, color="#111111")
pl.add_layout(ColorBar(color_mapper=map_k, width=48, height=211, padding=0, location=(3834 - 3805, 4018 - 3367),
                       ticker=FixedTicker(ticks=k_p_ticks), formatter=PrintfTickFormatter(format="%.3f"),
                       major_label_text_font=SANS, major_label_text_font_size="37px", major_label_text_color="#222222",
                       major_tick_in=9, major_tick_out=0, major_tick_line_color="#FFFFFF", major_tick_line_width=2,
                       label_standoff=25, bar_line_color=None, border_line_color=None, background_fill_color=None), "center")

# ---------- transparent text layer over the whole page ----------
ov = figure(width=PAGE_W, height=PAGE_H, x_range=Range1d(0, PAGE_W), y_range=Range1d(PAGE_H, 0), output_backend="svg",
            toolbar_location=None, x_axis_location=None, y_axis_location=None, min_border=0, frame_align=False,
            styles={"position": "absolute", "left": "0px", "top": "0px"})
ov.outline_line_color = None
ov.background_fill_color = None
ov.border_fill_color = None
ov.grid.visible = False
for (s, px, py, size, color, align, base, font, style, angle) in overlay_items:
    ov.text(x=[px], y=[py], text=[s], text_font=value(font), text_font_size=f"{size}px", text_color=color,
            text_align=align, text_baseline=base, text_font_style=style, angle=angle)

layout = column(
    row(pa, column(row(pb, pc), row(pd_, pe))),
    row(pf, pg, ph, pi_),
    row(pj, pk, pl),
    ov,
)
open("out.html", "w").write(file_html(layout, INLINE))
